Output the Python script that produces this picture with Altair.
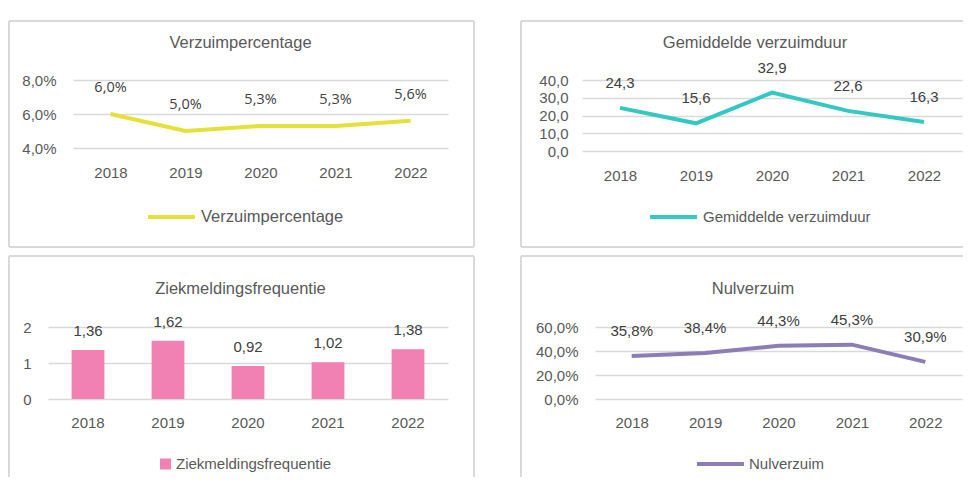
import altair as alt
import pandas as pd

years = ["2018", "2019", "2020", "2021", "2022"]
verzuimpercentage = [0.060, 0.050, 0.053, 0.053, 0.056]
verzuimduur = [24.3, 15.6, 32.9, 22.6, 16.3]
meldingsfrequentie = [1.36, 1.62, 0.92, 1.02, 1.38]
nulverzuim = [0.358, 0.384, 0.443, 0.453, 0.309]

names = ["Verzuimpercentage", "Gemiddelde verzuimduur", "Ziekmeldingsfrequentie", "Nulverzuim"]
colors = ["#E6E03B", "#33C8C1", "#F081B2", "#8C7DB4"]

FONT = "Liberation Sans"
AXIS_GREY = "#595959"
LABEL_GREY = "#404040"
GRID = "#D9D9D9"


def frame(w, h, sides):
    d = pd.DataFrame({"k": [0]})
    base = alt.Chart(d).mark_rule(color=GRID, strokeWidth=2)
    layers = []
    if "top" in sides:
        layers.append(base.encode(x=alt.value(0), x2=alt.value(w), y=alt.value(0)))
    if "bottom" in sides:
        layers.append(base.encode(x=alt.value(0), x2=alt.value(w), y=alt.value(h)))
    if "left" in sides:
        layers.append(base.encode(x=alt.value(0), y=alt.value(0), y2=alt.value(h)))
    if "right" in sides:
        layers.append(base.encode(x=alt.value(w), y=alt.value(0), y2=alt.value(h)))
    return layers


def panel(values, name, color, kind, w, h, xr, ydom, yr, yvals, yfmt, lblfmt,
          x_off, y_off, lbl_dy, lbl_font, lbl_size, title_dx, title_off,
          leg_x, leg_y, leg_size, leg_offset, sides):
    df = pd.DataFrame({"year": years, "v": values, "series": [name] * len(years)})
    if kind == "bar":
        xscale = alt.Scale(type="band", range=xr, paddingInner=0.59, paddingOuter=0.295)
    else:
        xscale = alt.Scale(type="point", range=xr, padding=0.5)
    x = alt.X("year:O", scale=xscale, sort=years,
              axis=alt.Axis(title=None, domain=False, ticks=False, tickSize=0,
                            labelPadding=0, labelBaseline="middle", offset=-x_off,
                            labelAngle=0, grid=False, labelFont=FONT, labelFontSize=15,
                            labelColor=AXIS_GREY, labelOverlap=False))
    y = alt.Y("v:Q", scale=alt.Scale(domain=ydom, range=yr, zero=False, nice=False),
              axis=alt.Axis(title=None, values=yvals,
                            labelExpr="replace(format(datum.value, '%s'), '.', ',')" % yfmt,
                            domain=False, ticks=False, tickSize=0, labelPadding=0,
                            offset=-y_off, grid=True, gridColor=GRID, gridWidth=1.5,
                            labelFont=FONT, labelFontSize=15, labelColor=AXIS_GREY,
                            labelOverlap=False))
    base = alt.Chart(df).encode(x=x, y=y)
    if kind == "bar":
        legend = alt.Legend(orient="none", legendX=leg_x, legendY=leg_y, title=None,
                            symbolType="square", symbolSize=121, symbolStrokeWidth=0,
                            labelFont=FONT, labelFontSize=leg_size, labelColor=AXIS_GREY,
                            labelOffset=leg_offset, clipHeight=16, padding=0, labelLimit=400)
        main = base.mark_bar().encode(
            color=alt.Color("series:N", scale=alt.Scale(range=[color]), legend=legend))
    else:
        legend = alt.Legend(orient="none", legendX=leg_x, legendY=leg_y, title=None,
                            symbolType="stroke", symbolSize=2209, symbolStrokeWidth=4,
                            labelFont=FONT, labelFontSize=leg_size, labelColor=AXIS_GREY,
                            labelOffset=leg_offset, clipHeight=16, padding=0, labelLimit=400)
        main = base.mark_line(strokeWidth=4).encode(
            color=alt.Color("series:N", scale=alt.Scale(range=[color]), legend=legend))
    labels = base.transform_calculate(
        label="replace(format(datum.v, '%s'), '.', ',')" % lblfmt
    ).mark_text(dy=lbl_dy, baseline="middle", font=lbl_font, fontSize=lbl_size,
                color=LABEL_GREY).encode(text="label:N")
    layers = frame(w, h, sides) + [main, labels]
    return alt.layer(*layers).properties(
        width=w, height=h,
        title=alt.TitleParams(text=name, anchor="middle", frame="group",
                              offset=title_off, baseline="middle", dx=title_dx,
                              font=FONT, fontSize=16.5, fontWeight="normal",
                              color=AXIS_GREY))


p1 = panel(verzuimpercentage, names[0], colors[0], "line", 465, 226, [64, 439],
           [0.04, 0.08], [127, 59], [0.04, 0.06, 0.08], ".1%", ".1%",
           75, 47, -26, "Open Sans", 14.5, -1, -39, 137, 188, 16.5, 4,
           ["top", "bottom", "left", "right"])
p2 = panel(verzuimduur, names[1], colors[1], "line", 442, 226, [61, 441],
           [0, 40], [130, 59], [0, 10, 20, 30, 40], ".1f", ".1f",
           72, 47, -25, FONT, 15, 13, -39, 127, 188, 15, 4,
           ["top", "bottom", "left"])
p3 = panel(meldingsfrequentie, names[2], colors[2], "bar", 465, 221, [39, 439],
           [0, 2], [143, 71], [0, 1, 2], "d", ".2f",
           54.5, 22, -19, FONT, 15, -1, -50, 149, 200, 15, 3,
           ["top", "left", "right"])
p4 = panel(nulverzuim, names[3], colors[3], "line", 442, 221, [74, 441],
           [0, 0.6], [143, 71], [0, 0.2, 0.4, 0.6], ".1%", ".1%",
           55, 57, -25, FONT, 15, 11, -50, 174, 200, 15, 3,
           ["top", "left"])

row1 = alt.hconcat(p1, p2, spacing=45).resolve_scale(color="independent").resolve_legend(color="independent")
row2 = alt.hconcat(p3, p4, spacing=45).resolve_scale(color="independent").resolve_legend(color="independent")

chart = alt.vconcat(row1, row2, spacing=7).resolve_scale(
    color="independent"
).resolve_legend(color="independent").properties(
    padding={"left": 0, "top": 12, "right": 0, "bottom": 0}
).configure_view(stroke=None)

chart.save("out.html", embed_options={"renderer": "svg", "actions": False})
